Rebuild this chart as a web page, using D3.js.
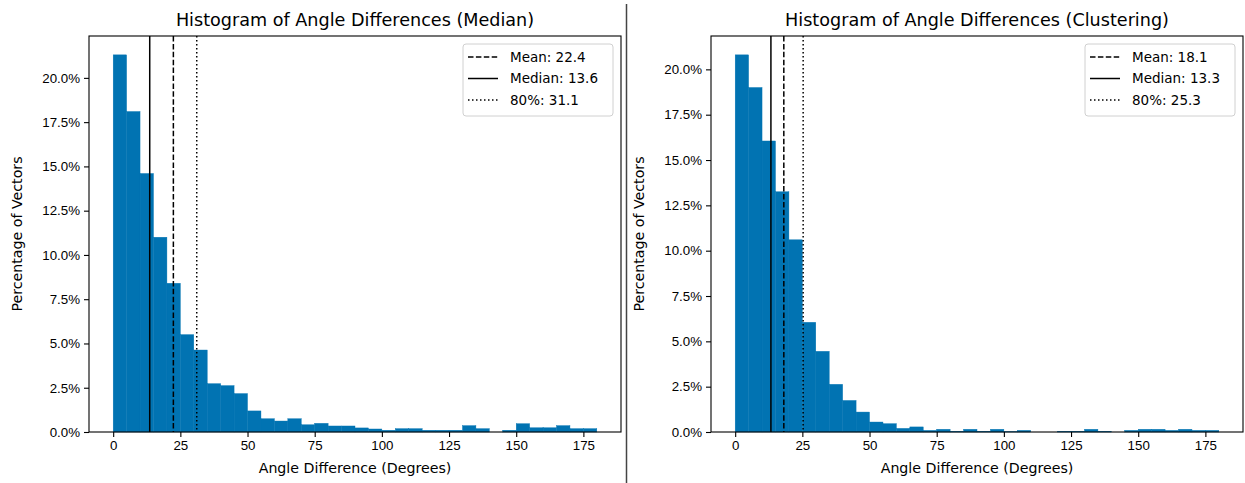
<!DOCTYPE html>
<html>
<head>
<meta charset="utf-8">
<script src="https://cdn.jsdelivr.net/npm/d3@7"></script>
<style>
  body { margin: 0; background: #fff; }
  svg { font-family: 'DejaVu Sans', sans-serif; display: block; }
  .axis text { font-size: 13.3px; fill: #000; }
  .axis path, .axis line { stroke: #000; stroke-width: 1.1; }
</style>
</head>
<body>
<svg width="1245" height="483"></svg>
<script>
// bin start values (bin width 5 degrees)
var binStarts = [0, 5, 10, 15, 20, 25, 30, 35, 40, 45, 50, 55, 60, 65, 70, 75, 80, 85,
  90, 95, 100, 105, 110, 115, 120, 125, 130, 135, 140, 145, 150, 155, 160, 165, 170, 175];
var binWidth = 5;

// percentage of vectors per bin
var medianPct = [21.3, 18.1, 14.6, 11.0, 8.4, 5.5, 4.63, 2.73, 2.62, 2.17, 1.19, 0.75,
  0.62, 0.75, 0.41, 0.49, 0.34, 0.34, 0.23, 0.17, 0.1, 0.19, 0.19, 0.1, 0.1, 0.1,
  0.36, 0.19, 0, 0.1, 0.47, 0.24, 0.24, 0.36, 0.19, 0.19];
var clusterPct = [20.8, 19.0, 16.05, 13.25, 10.6, 6.05, 4.45, 2.63, 1.74, 1.10, 0.55, 0.46,
  0.2, 0.28, 0.09, 0.15, 0.04, 0.15, 0.04, 0.15, 0.02, 0.09, 0, 0, 0.04, 0.04,
  0.15, 0.04, 0, 0.09, 0.15, 0.15, 0.09, 0.15, 0.09, 0.09];

var medianStats = { mean: 22.4, median: 13.6, p80: 31.1 };
var clusterStats = { mean: 18.1, median: 13.3, p80: 25.3 };

var xTicks = [0, 25, 50, 75, 100, 125, 150, 175];
var yTicks = [0, 2.5, 5, 7.5, 10, 12.5, 15, 17.5, 20];

var svg = d3.select('svg');
var barColor = '#0173b2';
var pad = { t: 36, b: 51 };
var plotW = 532;
var plotH = 483 - pad.t - pad.b;

function drawPanel(left, title, values, stats) {
  var g = svg.append('g')
    .attr('transform', 'translate(' + [left, pad.t] + ')');

  var x = d3.scaleLinear().domain([-9, 189]).range([0, plotW]);
  var y = d3.scaleLinear().domain([0, d3.max(values) * 1.05]).range([plotH, 0]);

  var bins = binStarts.map(function(b, i) { return { x0: b, x1: b + binWidth, v: values[i] }; });

  g.selectAll('.bar')
    .data(bins)
    .enter()
    .append('rect')
    .attr('class', 'bar')
    .attr('x', d => x(d.x0))
    .attr('width', d => x(d.x1) - x(d.x0))
    .attr('y', d => y(d.v))
    .attr('height', d => plotH - y(d.v))
    .style('fill', barColor)
    .style('stroke', barColor)
    .style('stroke-width', 0.4);

  var lines = [
    { key: 'Mean', val: stats.mean, dash: '5.5,2.4' },
    { key: 'Median', val: stats.median, dash: null },
    { key: '80%', val: stats.p80, dash: '1.5,2.5' }
  ];

  g.selectAll('.vline')
    .data(lines)
    .enter()
    .append('line')
    .attr('class', 'vline')
    .attr('x1', d => x(d.val))
    .attr('x2', d => x(d.val))
    .attr('y1', 0)
    .attr('y2', plotH)
    .style('stroke', '#000')
    .style('stroke-width', 1.5)
    .style('stroke-dasharray', d => d.dash);

  // axes
  var xAxisG = g.append('g')
    .attr('class', 'axis')
    .attr('transform', 'translate(0,' + plotH + ')')
    .call(d3.axisBottom(x).tickValues(xTicks).tickSize(5).tickPadding(4).tickFormat(d3.format('d')));
  xAxisG.select('.domain').remove();

  var yAxisG = g.append('g')
    .attr('class', 'axis')
    .call(d3.axisLeft(y).tickValues(yTicks).tickSize(5).tickPadding(4)
      .tickFormat(d => d3.format('.1f')(d) + '%'));
  yAxisG.select('.domain').remove();

  g.append('rect')
    .attr('width', plotW)
    .attr('height', plotH)
    .style('fill', 'none')
    .style('stroke', '#000')
    .style('stroke-width', 1.1);

  g.append('text')
    .text(title)
    .attr('x', plotW / 2)
    .attr('y', -10)
    .attr('text-anchor', 'middle')
    .style('font-size', '17.6px');

  g.append('text')
    .text('Angle Difference (Degrees)')
    .attr('x', plotW / 2)
    .attr('y', plotH + 41)
    .attr('text-anchor', 'middle')
    .style('font-size', '14.2px');

  g.append('text')
    .text('Percentage of Vectors')
    .attr('transform', 'rotate(-90)')
    .attr('x', -plotH / 2)
    .attr('y', -67)
    .attr('text-anchor', 'middle')
    .style('font-size', '14.2px');

  // legend
  var lg = g.append('g')
    .attr('transform', 'translate(' + [plotW - 158, 8] + ')');
  lg.append('rect')
    .attr('width', 150)
    .attr('height', 72)
    .attr('rx', 3)
    .style('fill', '#fff')
    .style('fill-opacity', 0.8)
    .style('stroke', '#d0d0d0')
    .style('stroke-width', 1);
  var rows = lg.selectAll('.lrow')
    .data(lines)
    .enter()
    .append('g')
    .attr('class', 'lrow')
    .attr('transform', (d, i) => 'translate(0,' + (13 + i * 21.5) + ')');
  rows.append('line')
    .attr('x1', 5)
    .attr('x2', 35)
    .style('stroke', '#000')
    .style('stroke-width', 1.5)
    .style('stroke-dasharray', d => d.dash);
  rows.append('text')
    .text(d => d.key + ': ' + d.val.toFixed(1))
    .attr('x', 47)
    .attr('dy', '0.35em')
    .style('font-size', '13.5px');
}

drawPanel(89, 'Histogram of Angle Differences (Median)', medianPct, medianStats);
drawPanel(711, 'Histogram of Angle Differences (Clustering)', clusterPct, clusterStats);

// separator between the two panels
svg.append('line')
  .attr('x1', 626.5).attr('x2', 626.5)
  .attr('y1', 4).attr('y2', 483)
  .style('stroke', '#444')
  .style('stroke-width', 1.5);
</script>
</body>
</html>
